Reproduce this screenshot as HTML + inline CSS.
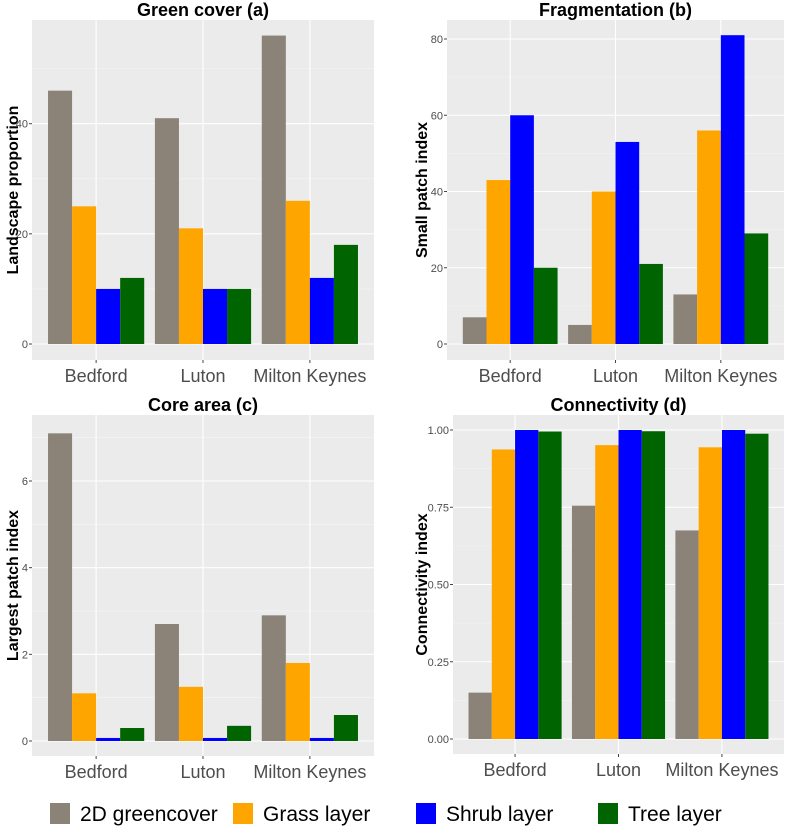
<!DOCTYPE html>
<html><head><meta charset="utf-8"><style>
body{margin:0;background:#fff;width:787px;height:829px;overflow:hidden;font-family:"Liberation Sans",sans-serif;}
</style></head><body>
<svg id="c" width="787" height="829" xmlns="http://www.w3.org/2000/svg"></svg>
<script>
const categories=["Bedford","Luton","Milton Keynes"];
const seriesNames=["2D greencover","Grass layer","Shrub layer","Tree layer"];
const seriesColors=["#8b8378","#ffa500","#0000ff","#006400"];
const greenGrey=[46,41,56], greenGrass=[25,21,26], greenShrub=[10,10,12], greenTree=[12,10,18];
const fragGrey=[7,5,13], fragGrass=[43,40,56], fragShrub=[60,53,81], fragTree=[20,21,29];
const coreGrey=[7.1,2.7,2.9], coreGrass=[1.1,1.25,1.8], coreShrub=[0.07,0.07,0.07], coreTree=[0.3,0.35,0.6];
const connGrey=[0.15,0.755,0.675], connGrass=[0.937,0.951,0.944], connShrub=[1,1,1], connTree=[0.995,0.996,0.988];
const ticksA=[0,20,40], ticksB=[0,20,40,60,80], ticksC=[0,2,4,6], ticksD=[0,0.25,0.5,0.75,1];
const tickLabelsD=["0.00","0.25","0.50","0.75","1.00"];

const NS="http://www.w3.org/2000/svg";
const svg=document.getElementById('c');
function mk(tag,attrs,parent){const e=document.createElementNS(NS,tag);for(const k in attrs)e.setAttribute(k,attrs[k]);(parent||svg).appendChild(e);return e;}

function panel(cfg){
  const g=mk('g',{});
  
  
  const {x0,x1,y0,y1,zeroY,maxV,maxY}=cfg;
  const yS=v=>zeroY-(v/maxV)*(zeroY-maxY);
  const bg=mk('rect',{x:x0,y:y0,width:x1-x0,height:y1-y0,fill:'#ebebeb'},g);
  
  
  const ticks=cfg.ticks;
  const step=ticks[1]-ticks[0];
  for(let v=ticks[0]-step/2; ; v+=step){const yy=yS(v);if(yy<y0)break;if(yy<=y1)mk('line',{x1:x0,x2:x1,y1:yy,y2:yy,stroke:'#f5f5f5','stroke-width':0.6},g);}
  ticks.forEach((t,i)=>{
    const yy=yS(t);
    mk('line',{x1:x0,x2:x1,y1:yy,y2:yy,stroke:'#fff','stroke-width':1.1},g);
    mk('line',{x1:x0-3,x2:x0,y1:yy,y2:yy,stroke:'#444','stroke-width':1},g);
    const tl=mk('text',{x:x0-4,y:yy+4,'text-anchor':'end','font-size':11,fill:'#4d4d4d'},g);
    tl.textContent=cfg.tickLabels?cfg.tickLabels[i]:String(t);
    
    
  });
  const unit=(x1-x0)/(categories.length-1+1.2), gw=unit*0.9, bw=gw/4;
  categories.forEach((c,i)=>{
    const cx=x0+unit*(i+0.6);
    mk('line',{x1:cx,x2:cx,y1:y0,y2:y1,stroke:'#fff','stroke-width':1.1},g);
    mk('line',{x1:cx,x2:cx,y1:y1,y2:y1+3,stroke:'#444','stroke-width':1},g);
    const xl=mk('text',{x:cx,y:y1+22,'text-anchor':'middle','font-size':18,fill:'#4d4d4d'},g);
    xl.textContent=c;
    
    
    cfg.series.forEach((arr,s)=>{
      const v=arr[i];
      const r=mk('rect',{x:cx-gw/2+s*bw,y:yS(v),width:bw,height:zeroY-yS(v),fill:seriesColors[s]},g);
      
      
    });
  });
  const t=mk('text',{x:(x0+x1)/2,y:y0-4,'text-anchor':'middle','font-size':18,'font-weight':'bold',fill:'#000'},g);
  t.textContent=cfg.title;
  
  
  const yt=mk('text',{x:0,y:0,'text-anchor':'middle','font-size':16,'font-weight':'bold',fill:'#000',transform:`translate(${cfg.ytX},${(y0+y1)/2}) rotate(-90)`},g);
  yt.textContent=cfg.ytitle;
  
  
}

panel({name:'panel-green-cover',title:'Green cover (a)',ytitle:'Landscape proportion',x0:32,x1:374,y0:20,y1:360,zeroY:344,maxV:40,maxY:123.7,ticks:ticksA,series:[greenGrey,greenGrass,greenShrub,greenTree],ytX:18});
panel({name:'panel-fragmentation',title:'Fragmentation (b)',ytitle:'Small patch index',x0:447,x1:784,y0:20,y1:360,zeroY:344,maxV:80,maxY:39,ticks:ticksB,series:[fragGrey,fragGrass,fragShrub,fragTree],ytX:427});
panel({name:'panel-core-area',title:'Core area (c)',ytitle:'Largest patch index',x0:32,x1:374,y0:415,y1:756,zeroY:741,maxV:6,maxY:481,ticks:ticksC,series:[coreGrey,coreGrass,coreShrub,coreTree],ytX:18});
panel({name:'panel-connectivity',title:'Connectivity (d)',ytitle:'Connectivity index',x0:453,x1:784,y0:415,y1:754,zeroY:739,maxV:1,maxY:430,ticks:ticksD,tickLabels:tickLabelsD,series:[connGrey,connGrass,connShrub,connTree],ytX:427});

const lg=mk('g',{});


const lx=[50,233,416,598];
seriesNames.forEach((s,i)=>{
  const r=mk('rect',{x:lx[i],y:803,width:20,height:21,fill:seriesColors[i]},lg);
  
  
  const t=mk('text',{x:lx[i]+30,y:821,'font-size':21,fill:'#000'},lg);
  t.textContent=s;
  
  
});
</script>
</body></html>
